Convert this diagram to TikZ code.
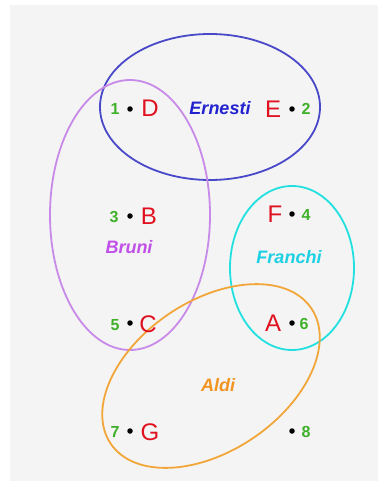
\documentclass[tikz,border=0pt]{standalone}
\usepackage{fontspec}
\setmainfont{Liberation Sans}
\begin{document}
\begin{tikzpicture}[x=1pt,y=-1pt,
  elem/.style={text=elemred,font=\fontsize{24}{24}\selectfont,inner sep=0pt,anchor=base},
  num/.style={text=numgreen,font=\fontsize{16}{16}\selectfont\bfseries,inner sep=0pt,anchor=base},
  pt/.style={circle,fill=black,inner sep=0pt,minimum size=5.5pt},
  setlabel/.style={font=\fontsize{18}{18}\selectfont\bfseries\itshape,inner sep=0pt,anchor=base},
  setline/.style={line width=1.8pt}]
\definecolor{bg}{HTML}{F4F4F4}
\definecolor{elemred}{HTML}{E0101E}
\definecolor{numgreen}{HTML}{3FB02A}
\definecolor{ernblue}{HTML}{4848C8}
\definecolor{erntext}{HTML}{2222D0}
\definecolor{brunivio}{HTML}{C88AE8}
\definecolor{brunitext}{HTML}{C050E8}
\definecolor{franccyan}{HTML}{22E0E0}
\definecolor{franctext}{HTML}{1CD0E4}
\definecolor{aldiorange}{HTML}{F2A63A}
\definecolor{alditext}{HTML}{F29422}
\useasboundingbox (0,0) rectangle (379,481);
\fill[white] (0,0) rectangle (379,481);
\fill[bg] (10,5) rectangle (378,481);
% sets
\draw[setline,draw=ernblue] (210,107) ellipse [x radius=110pt, y radius=73pt];
\draw[setline,draw=brunivio] (130,215) ellipse [x radius=80pt, y radius=135pt];
\draw[setline,draw=franccyan] (292,268) ellipse [x radius=62pt, y radius=82pt];
\draw[setline,draw=aldiorange,rotate around={34:(211,376)}] (211,376) ellipse [x radius=121pt, y radius=75pt];
% labels
\node[setlabel,text=erntext] (ernesti) at (220,114.5) {Ernesti};
\node[setlabel,text=brunitext] (bruni) at (129,253.5) {Bruni};
\node[setlabel,text=franctext] (franchi) at (289,263.5) {Franchi};
\node[setlabel,text=alditext] (aldi) at (218,391.5) {Aldi};
% elements
\node[num] (n1) at (115,115) {1};
\node[pt] (p1) at (130,109) {};
\node[elem] (D) at (150,117) {D};
\node[elem] (E) at (273,118) {E};
\node[pt] (p2) at (292,109) {};
\node[num] (n2) at (306,115) {2};
\node[num] (n3) at (114,222) {3};
\node[pt] (p3) at (130,216) {};
\node[elem] (B) at (149,224) {B};
\node[elem] (F) at (275,222) {F};
\node[pt] (p4) at (292,214) {};
\node[num] (n4) at (306,220) {4};
\node[num] (n5) at (115,330) {5};
\node[pt] (p5) at (130,323) {};
\node[elem] (C) at (148,332) {C};
\node[elem] (A) at (273,331) {A};
\node[pt] (p6) at (292,323) {};
\node[num] (n6) at (304,329) {6};
\node[num] (n7) at (115,437) {7};
\node[pt] (p7) at (130,431) {};
\node[elem] (G) at (150,440) {G};
\node[pt] (p8) at (292,431) {};
\node[num] (n8) at (306,437) {8};
\end{tikzpicture}
\end{document}
